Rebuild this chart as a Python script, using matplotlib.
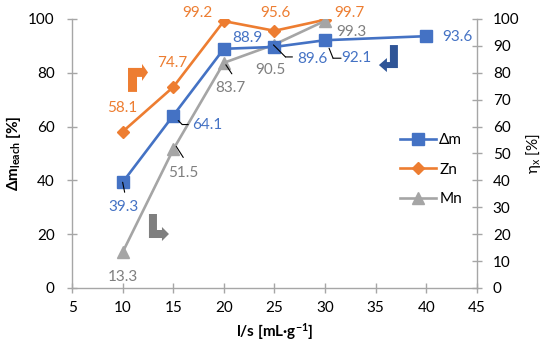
import numpy as np
import matplotlib
matplotlib.use("Agg")
import matplotlib.pyplot as plt
from matplotlib.lines import Line2D
from matplotlib.patches import Polygon
from matplotlib.transforms import ScaledTranslation, offset_copy

plt.rcParams['font.family'] = ['Lato', 'DejaVu Sans']
plt.rcParams['mathtext.fontset'] = 'custom'
plt.rcParams['mathtext.rm'] = 'Lato'
plt.rcParams['mathtext.bf'] = 'Lato:bold'
plt.rcParams['mathtext.it'] = 'Lato:italic'

# datos
ls_dm = [10, 15, 20, 25, 30, 40]
dm = [39.3, 64.1, 88.9, 89.6, 92.1, 93.6]
ls_met = [10, 15, 20, 25, 30]
zn = [58.1, 74.7, 99.2, 95.6, 99.7]
mn = [13.3, 51.5, 83.7, 90.5, 99.3]

azul = '#4472C4'
naranja = '#ED7D31'
gris = '#A5A5A5'
eje = '#A6A6A6'

fig = plt.figure(figsize=(5.5, 3.51), dpi=100)
ax = fig.add_axes([0.131, 0.1795, 0.736, 0.7665])
ax2 = ax.twinx()

ax.plot(ls_dm, dm, color=azul, lw=1.9, marker='s', ms=8, zorder=3)
ax2.plot(ls_met, zn, color=naranja, lw=1.9, marker='D', ms=6, zorder=3)
ax2.plot(ls_met, mn, color=gris, lw=1.9, marker='^', ms=8, zorder=3)

ax.set_xlim(5, 45)
ax.set_ylim(0, 100)
ax2.set_ylim(0, 100)
ax.set_xticks(np.arange(5, 46, 5))
ax.set_yticks(np.arange(0, 101, 20))
ax2.set_yticks(np.arange(0, 101, 10))

for a in (ax, ax2):
    a.spines['top'].set_visible(False)
    for s in ('left', 'right', 'bottom'):
        a.spines[s].set_color(eje)
        a.spines[s].set_linewidth(1.0)
    a.tick_params(direction='inout', length=7, width=1.0, color=eje, labelsize=11)
ax.tick_params(axis='y', pad=9)
ax.tick_params(axis='x', pad=6)
ax2.tick_params(axis='y', pad=8)
ax.spines['right'].set_visible(False)
ax2.spines['left'].set_visible(False)
ax2.spines['bottom'].set_visible(False)
ax.set_zorder(ax2.get_zorder() + 1)
ax.patch.set_visible(False)

ax.set_xlabel('l/s [mL·g$^{\\mathbf{-1}}$]', fontweight='bold', fontsize=11, labelpad=4)
ax.set_ylabel('Δm$_{\\mathbf{leach}}$ [%]', fontweight='bold', fontsize=11, labelpad=4)
ax2.set_ylabel('η$_{\\mathrm{x}}$ [%]', fontsize=11, labelpad=3)

# etiquetas de datos (desplazamientos en pixeles)
off_dm = [(1, -25), (34, -9), (24, 11), (38, -12), (31, -18), (31, -1)]
off_zn = [(0, 24), (-1, 24), (-26, 8), (1, 18), (24, 7)]
off_mn = [(0, -25), (10, -24), (7, -25), (-4, -25), (26, -11)]

for x, y, o in zip(ls_dm, dm, off_dm):
    ax.annotate(f'{y:.1f}', (x, y), xytext=o, textcoords='offset pixels',
                ha='center', va='center', color=azul, fontsize=11)
for x, y, o in zip(ls_met, zn, off_zn):
    ax2.annotate(f'{y:.1f}', (x, y), xytext=o, textcoords='offset pixels',
                 ha='center', va='center', color=naranja, fontsize=11)
for x, y, o in zip(ls_met, mn, off_mn):
    ax2.annotate(f'{y:.1f}', (x, y), xytext=o, textcoords='offset pixels',
                 ha='center', va='center', color='#7F7F7F', fontsize=11)


# lineas guia (en pixeles relativos al punto)
def guia(a, x, y, pts):
    for p0, p1 in zip(pts[:-1], pts[1:]):
        tr = offset_copy(a.transData, fig=fig, x=p0[0], y=p0[1], units='dots')
        a.annotate('', xy=(x, y), xycoords=tr, xytext=(p1[0] - p0[0], p1[1] - p0[1]),
                   textcoords='offset pixels',
                   arrowprops=dict(arrowstyle='-', lw=0.8, color='black', shrinkA=0, shrinkB=0),
                   zorder=5)


guia(ax, 10, 39.3, [(0, 0), (2, -10)])
guia(ax, 15, 64.1, [(5, -5), (9, -9), (15, -9)])
guia(ax, 25, 89.6, [(-1, 2), (11, -10), (18, -10)])
guia(ax, 30, 92.1, [(4, -8), (8, -18), (16, -18)])
guia(ax2, 15, 51.5, [(3, 3), (10, -8)])
guia(ax2, 20, 83.7, [(2, -2), (8, -11)])


# flechas que indican el eje
def flecha(x, y, verts, color):
    tr = ScaledTranslation(x, y, ax.transData)
    ax.add_patch(Polygon(verts, closed=True, facecolor=color, edgecolor='none',
                         transform=tr, zorder=4, clip_on=False))


flecha(10.53, 81.8, [(0, 0), (14, 0), (14, 4), (20, -4.5), (14, -13), (14, -9),
                     (9, -9), (9, -24), (0, -24)], naranja)
flecha(12.6, 27.5, [(0, 0), (8, 0), (8, -16), (13, -16), (13, -13), (20, -20),
                    (13, -27), (13, -24), (0, -24)], '#7F7F7F')
flecha(37.2, 90.3, [(0, 0), (0, -23), (-11, -23), (-11, -27), (-19, -20), (-11, -13),
                    (-11, -17), (-8, -17), (-8, 0)], '#2F5597')

handles = [Line2D([], [], color=azul, lw=1.9, marker='s', ms=8),
           Line2D([], [], color=naranja, lw=1.9, marker='D', ms=6),
           Line2D([], [], color=gris, lw=1.9, marker='^', ms=8)]
ax.legend(handles, ['Δm', 'Zn', 'Mn'], loc='center left', bbox_to_anchor=(0.775, 0.44),
          frameon=False, fontsize=11, handlelength=2.4, labelspacing=1.0, handletextpad=0.2)

fig.savefig('out.png', dpi=100)
